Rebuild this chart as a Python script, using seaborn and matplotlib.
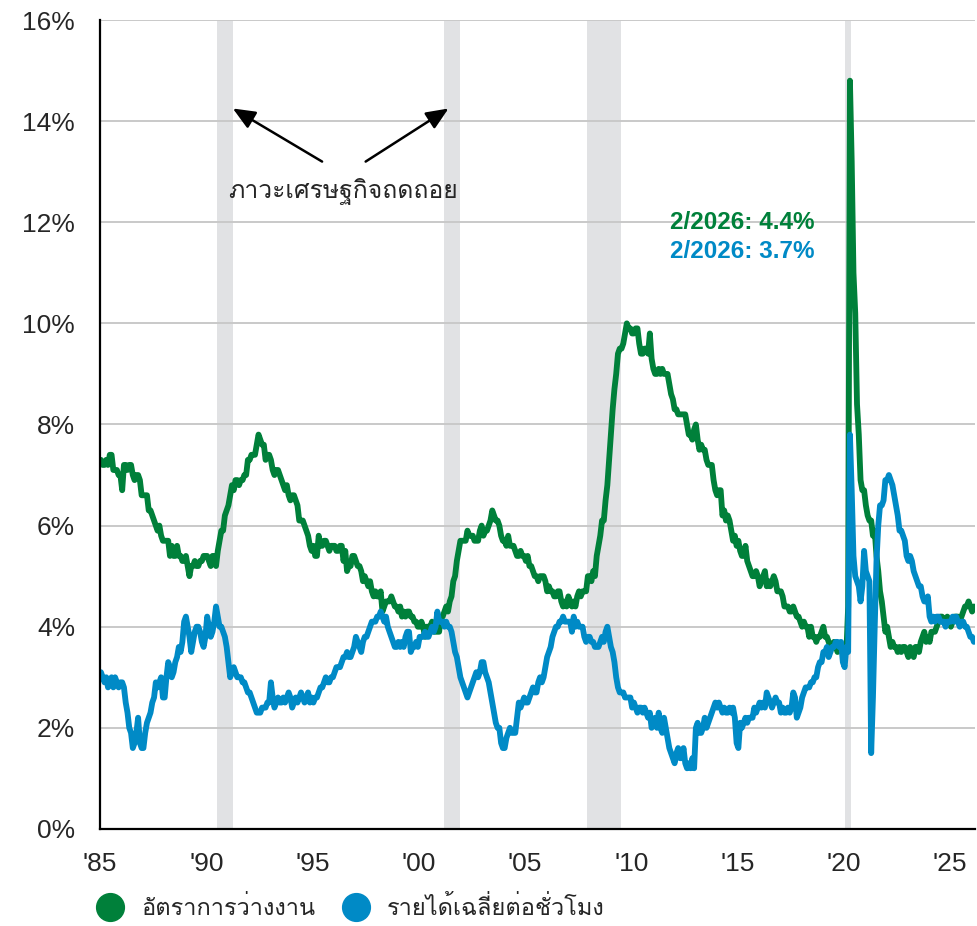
import numpy as np
import pandas as pd
import matplotlib
matplotlib.use('Agg')
import matplotlib.pyplot as plt
import seaborn as sns
from matplotlib import font_manager as fm
from matplotlib.ft2font import FT2Font
from matplotlib.lines import Line2D

# monthly values, Jan 1985 .. Feb 2026
unemployment = [
    7.3, 7.2, 7.2, 7.3, 7.2, 7.4, 7.4, 7.1, 7.1, 7.1, 7.0, 7.0,  # 1985
    6.7, 7.2, 7.2, 7.1, 7.2, 7.2, 7.0, 6.9, 7.0, 7.0, 6.9, 6.6,  # 1986
    6.6, 6.6, 6.6, 6.3, 6.3, 6.2, 6.1, 6.0, 5.9, 6.0, 5.8, 5.7,  # 1987
    5.7, 5.7, 5.7, 5.4, 5.6, 5.4, 5.4, 5.6, 5.4, 5.4, 5.3, 5.3,  # 1988
    5.4, 5.2, 5.0, 5.2, 5.2, 5.3, 5.2, 5.2, 5.3, 5.3, 5.4, 5.4,  # 1989
    5.4, 5.3, 5.2, 5.4, 5.4, 5.2, 5.5, 5.7, 5.9, 5.9, 6.2, 6.3,  # 1990
    6.4, 6.6, 6.8, 6.7, 6.9, 6.9, 6.8, 6.9, 6.9, 7.0, 7.0, 7.3,  # 1991
    7.3, 7.4, 7.4, 7.4, 7.6, 7.8, 7.7, 7.6, 7.6, 7.3, 7.4, 7.4,  # 1992
    7.3, 7.1, 7.0, 7.1, 7.1, 7.0, 6.9, 6.8, 6.7, 6.8, 6.6, 6.5,  # 1993
    6.6, 6.6, 6.5, 6.4, 6.1, 6.1, 6.1, 6.0, 5.9, 5.8, 5.6, 5.5,  # 1994
    5.6, 5.4, 5.4, 5.8, 5.6, 5.6, 5.7, 5.7, 5.6, 5.5, 5.6, 5.6,  # 1995
    5.6, 5.5, 5.5, 5.6, 5.6, 5.3, 5.5, 5.1, 5.2, 5.2, 5.4, 5.4,  # 1996
    5.3, 5.2, 5.2, 5.1, 4.9, 5.0, 4.9, 4.8, 4.9, 4.7, 4.6, 4.7,  # 1997
    4.6, 4.6, 4.7, 4.3, 4.4, 4.5, 4.5, 4.5, 4.6, 4.5, 4.4, 4.4,  # 1998
    4.3, 4.4, 4.2, 4.3, 4.2, 4.3, 4.3, 4.2, 4.2, 4.1, 4.1, 4.0,  # 1999
    4.0, 4.1, 4.0, 3.8, 4.0, 4.0, 4.0, 4.1, 3.9, 3.9, 3.9, 3.9,  # 2000
    4.2, 4.2, 4.3, 4.4, 4.3, 4.5, 4.6, 4.9, 5.0, 5.3, 5.5, 5.7,  # 2001
    5.7, 5.7, 5.7, 5.9, 5.8, 5.8, 5.8, 5.7, 5.7, 5.7, 5.9, 6.0,  # 2002
    5.8, 5.9, 5.9, 6.0, 6.1, 6.3, 6.2, 6.1, 6.1, 6.0, 5.8, 5.7,  # 2003
    5.7, 5.6, 5.8, 5.6, 5.6, 5.6, 5.5, 5.4, 5.4, 5.5, 5.4, 5.4,  # 2004
    5.3, 5.4, 5.2, 5.2, 5.1, 5.0, 5.0, 4.9, 5.0, 5.0, 5.0, 4.9,  # 2005
    4.7, 4.8, 4.7, 4.7, 4.6, 4.6, 4.7, 4.7, 4.5, 4.4, 4.5, 4.4,  # 2006
    4.6, 4.5, 4.4, 4.5, 4.4, 4.6, 4.7, 4.6, 4.7, 4.7, 4.7, 5.0,  # 2007
    5.0, 4.9, 5.1, 5.0, 5.4, 5.6, 5.8, 6.1, 6.1, 6.5, 6.8, 7.3,  # 2008
    7.8, 8.3, 8.7, 9.0, 9.4, 9.5, 9.5, 9.6, 9.8, 10.0, 9.9, 9.9,  # 2009
    9.8, 9.8, 9.9, 9.9, 9.6, 9.4, 9.4, 9.5, 9.5, 9.4, 9.8, 9.3,  # 2010
    9.1, 9.0, 9.0, 9.1, 9.0, 9.1, 9.0, 9.0, 9.0, 8.8, 8.6, 8.5,  # 2011
    8.3, 8.3, 8.2, 8.2, 8.2, 8.2, 8.2, 8.0, 7.8, 7.8, 7.7, 7.9,  # 2012
    8.0, 7.7, 7.5, 7.6, 7.5, 7.5, 7.3, 7.2, 7.2, 7.2, 6.9, 6.7,  # 2013
    6.6, 6.7, 6.7, 6.2, 6.3, 6.1, 6.2, 6.1, 5.9, 5.7, 5.8, 5.6,  # 2014
    5.7, 5.5, 5.4, 5.4, 5.6, 5.3, 5.2, 5.1, 5.0, 5.0, 5.1, 5.0,  # 2015
    4.8, 4.9, 5.0, 5.1, 4.8, 4.9, 4.8, 4.9, 5.0, 4.9, 4.7, 4.7,  # 2016
    4.7, 4.6, 4.4, 4.4, 4.4, 4.3, 4.3, 4.4, 4.3, 4.2, 4.2, 4.1,  # 2017
    4.0, 4.1, 4.0, 4.0, 3.8, 4.0, 3.8, 3.8, 3.7, 3.8, 3.8, 3.9,  # 2018
    4.0, 3.8, 3.8, 3.7, 3.6, 3.6, 3.7, 3.6, 3.5, 3.6, 3.6, 3.6,  # 2019
    3.5, 3.5, 4.4, 14.8, 13.2, 11.0, 10.2, 8.4, 7.8, 6.9, 6.7, 6.7,  # 2020
    6.4, 6.2, 6.1, 6.1, 5.8, 5.9, 5.4, 5.1, 4.7, 4.5, 4.2, 3.9,  # 2021
    4.0, 3.8, 3.6, 3.7, 3.6, 3.6, 3.5, 3.6, 3.5, 3.6, 3.6, 3.5,  # 2022
    3.4, 3.6, 3.5, 3.4, 3.6, 3.6, 3.5, 3.7, 3.8, 3.9, 3.7, 3.8,  # 2023
    3.7, 3.9, 3.9, 3.9, 4.0, 4.1, 4.2, 4.2, 4.1, 4.1, 4.2, 4.1,  # 2024
    4.0, 4.1, 4.2, 4.2, 4.2, 4.1, 4.2, 4.3, 4.4, 4.4, 4.5, 4.4,  # 2025
    4.3, 4.4,  # 2026
]

hourly_earnings = [
    3.1, 3.0, 2.9, 3.0, 2.8, 2.9, 3.0, 2.8, 3.0, 2.9, 2.8, 2.9,  # 1985
    2.9, 2.8, 2.5, 2.3, 2.0, 1.9, 1.6, 1.7, 1.9, 2.2, 1.7, 1.6,  # 1986
    1.6, 1.9, 2.1, 2.2, 2.3, 2.5, 2.6, 2.9, 2.8, 2.9, 3.0, 2.6,  # 1987
    2.6, 3.0, 3.3, 3.2, 3.0, 3.1, 3.3, 3.4, 3.6, 3.5, 3.7, 4.1,  # 1988
    4.2, 4.0, 3.8, 3.5, 3.7, 3.9, 4.0, 4.0, 3.9, 3.7, 3.6, 3.8,  # 1989
    4.2, 4.0, 3.8, 3.9, 4.1, 4.4, 4.2, 4.0, 4.0, 3.9, 3.8, 3.6,  # 1990
    3.3, 3.0, 3.1, 3.2, 3.1, 3.0, 3.0, 3.0, 2.9, 2.9, 2.8, 2.7,  # 1991
    2.7, 2.6, 2.5, 2.4, 2.3, 2.3, 2.3, 2.4, 2.4, 2.4, 2.5, 2.5,  # 1992
    2.9, 2.6, 2.4, 2.5, 2.6, 2.5, 2.5, 2.6, 2.5, 2.6, 2.7, 2.6,  # 1993
    2.4, 2.5, 2.6, 2.5, 2.6, 2.7, 2.6, 2.5, 2.6, 2.7, 2.5, 2.6,  # 1994
    2.5, 2.6, 2.6, 2.7, 2.8, 2.8, 2.9, 3.0, 2.9, 2.9, 3.0, 3.0,  # 1995
    3.1, 3.2, 3.2, 3.2, 3.3, 3.4, 3.4, 3.5, 3.4, 3.4, 3.5, 3.6,  # 1996
    3.8, 3.7, 3.6, 3.5, 3.7, 3.8, 3.8, 3.9, 4.0, 4.1, 4.1, 4.1,  # 1997
    4.2, 4.2, 4.3, 4.2, 4.1, 4.2, 4.0, 3.9, 3.8, 3.7, 3.6, 3.6,  # 1998
    3.7, 3.6, 3.7, 3.6, 3.8, 3.9, 3.9, 3.5, 3.6, 3.6, 3.7, 3.6,  # 1999
    3.8, 3.8, 3.8, 3.9, 3.8, 3.8, 3.9, 4.0, 3.9, 4.0, 4.3, 4.1,  # 2000
    4.1, 4.1, 4.0, 4.1, 4.0, 4.0, 3.9, 3.7, 3.5, 3.4, 3.2, 3.0,  # 2001
    2.9, 2.8, 2.7, 2.6, 2.7, 2.8, 2.9, 3.0, 3.1, 3.0, 3.1, 3.3,  # 2002
    3.3, 3.1, 3.0, 2.9, 2.7, 2.5, 2.3, 2.1, 2.0, 2.0, 1.7, 1.6,  # 2003
    1.6, 1.8, 1.9, 2.0, 1.9, 1.9, 1.9, 2.2, 2.5, 2.4, 2.5, 2.6,  # 2004
    2.5, 2.5, 2.6, 2.7, 2.8, 2.7, 2.7, 2.9, 3.0, 2.9, 3.0, 3.2,  # 2005
    3.4, 3.5, 3.6, 3.8, 3.9, 4.0, 4.0, 4.1, 4.1, 4.2, 4.1, 4.1,  # 2006
    4.1, 4.1, 3.9, 4.2, 4.0, 4.1, 4.0, 4.0, 4.0, 3.8, 3.7, 3.8,  # 2007
    3.8, 3.7, 3.7, 3.6, 3.6, 3.6, 3.7, 3.8, 3.7, 3.9, 4.0, 3.8,  # 2008
    3.6, 3.5, 3.3, 3.0, 2.8, 2.7, 2.7, 2.7, 2.6, 2.6, 2.6, 2.6,  # 2009
    2.4, 2.5, 2.4, 2.3, 2.4, 2.4, 2.3, 2.4, 2.3, 2.2, 2.3, 2.0,  # 2010
    2.1, 2.2, 2.0, 2.3, 2.0, 1.9, 2.2, 2.0, 1.8, 1.6, 1.5, 1.4,  # 2011
    1.3, 1.5, 1.6, 1.4, 1.4, 1.6, 1.3, 1.2, 1.3, 1.2, 1.4, 1.2,  # 2012
    2.0, 2.1, 1.9, 1.9, 2.0, 2.2, 2.0, 2.1, 2.2, 2.3, 2.4, 2.5,  # 2013
    2.4, 2.5, 2.4, 2.3, 2.4, 2.3, 2.3, 2.4, 2.3, 2.4, 2.2, 1.7,  # 2014
    1.6, 2.1, 2.0, 2.1, 2.2, 2.1, 2.2, 2.2, 2.2, 2.4, 2.3, 2.4,  # 2015
    2.5, 2.4, 2.5, 2.4, 2.7, 2.6, 2.5, 2.4, 2.5, 2.6, 2.5, 2.5,  # 2016
    2.3, 2.4, 2.3, 2.3, 2.4, 2.3, 2.4, 2.7, 2.6, 2.2, 2.3, 2.4,  # 2017
    2.6, 2.7, 2.8, 2.8, 2.8, 2.9, 2.9, 3.0, 3.0, 3.2, 3.3, 3.3,  # 2018
    3.5, 3.5, 3.6, 3.4, 3.5, 3.6, 3.6, 3.7, 3.7, 3.6, 3.7, 3.3,  # 2019
    3.2, 3.6, 3.5, 7.8, 6.7, 5.4, 5.0, 4.9, 4.8, 4.5, 4.8, 5.5,  # 2020
    5.1, 5.0, 4.9, 1.5, 2.6, 4.0, 5.3, 6.0, 6.4, 6.4, 6.5, 6.9,  # 2021
    6.9, 7.0, 6.9, 6.8, 6.6, 6.4, 6.2, 5.9, 5.9, 5.8, 5.7, 5.4,  # 2022
    5.3, 5.4, 5.3, 5.1, 5.0, 4.9, 4.8, 4.8, 4.6, 4.5, 4.5, 4.6,  # 2023
    4.2, 4.1, 4.2, 4.1, 4.2, 4.2, 4.1, 4.1, 4.1, 4.0, 4.1, 4.1,  # 2024
    4.1, 4.2, 4.1, 4.2, 4.1, 4.0, 4.1, 4.1, 4.0, 4.0, 3.9, 3.8,  # 2025
    3.8, 3.7,  # 2026
]

recession_start = [1990.5, 2001.17, 2007.92, 2020.08]
recession_end = [1991.25, 2001.92, 2009.5, 2020.33]

series_names = ['อัตราการว่างงาน', 'รายได้เฉลี่ยต่อชั่วโมง']
series_colors = ['#00803a', '#008ac6']
y_ticks = [0, 2, 4, 6, 8, 10, 12, 14, 16]
x_ticks = [1985, 1990, 1995, 2000, 2005, 2010, 2015, 2020, 2025]
x_labels = ["'85", "'90", "'95", "'00", "'05", "'10", "'15", "'20", "'25"]


def find_thai_font():
    # look for any installed font that has Thai glyphs
    for f in fm.fontManager.ttflist:
        try:
            ft = FT2Font(f.fname)
            if ft.get_char_index(0x0E20) and ft.get_char_index(0x0E2D):
                return f.name
        except Exception:
            pass
    return 'DejaVu Sans'


sns.set_style('white')
thai_font = find_thai_font()
plt.rcParams['font.family'] = ['Liberation Sans', thai_font, 'DejaVu Sans']

n = len(unemployment)
dates = 1985 + (np.arange(n) + 0.5) / 12
df = pd.DataFrame({
    'date': np.concatenate([dates, dates]),
    'value': unemployment + hourly_earnings,
    'series': [series_names[0]] * n + [series_names[1]] * n,
})

fig = plt.figure(figsize=(9.77, 9.26), dpi=100)
ax = fig.add_axes([0.1024, 0.1048, 0.8956, 0.8736])

for s, e in zip(recession_start, recession_end):
    ax.axvspan(s, e, color='#e1e2e4', lw=0, zorder=0)

for y in y_ticks[1:]:
    ax.axhline(y, color='#c9c9c9', lw=1.4, zorder=0.5)

sns.lineplot(data=df, x='date', y='value', hue='series', palette=series_colors,
             linewidth=4.2, legend=False, ax=ax, zorder=3)

ax.set_xlim(1985, 2026.18)
ax.set_ylim(0, 16)
ax.set_yticks(y_ticks)
ax.set_yticklabels([f'{v}%' for v in y_ticks], fontsize=19)
ax.set_xticks(x_ticks)
ax.set_xticklabels(x_labels, fontsize=19)
ax.tick_params(axis='y', length=0, pad=18)
ax.tick_params(axis='x', length=5.8, width=1.6, color='black', direction='out', pad=10.5)
ax.set_xlabel('')
ax.set_ylabel('')
for side in ['top', 'right']:
    ax.spines[side].set_visible(False)
for side in ['left', 'bottom']:
    ax.spines[side].set_color('black')
    ax.spines[side].set_linewidth(1.6)
    ax.spines[side].set_zorder(4)

# recession annotation
ax.text(1996.45, 12.6, 'ภาวะเศรษฐกิจถดถอย', fontsize=17.8, ha='center', va='center',
        family=[thai_font, 'DejaVu Sans'])
arrow_style = dict(arrowstyle='-|>,head_length=0.75,head_width=0.32', color='black',
                   lw=1.8, mutation_scale=18, shrinkA=0, shrinkB=0)
ax.annotate('', xy=(1991.25, 14.25), xytext=(1995.45, 13.2), arrowprops=arrow_style)
ax.annotate('', xy=(2001.4, 14.25), xytext=(1997.5, 13.2), arrowprops=arrow_style)

# latest values
ax.text(2011.82, 12.0, '2/2026: 4.4%', color=series_colors[0], fontsize=17.5,
        fontweight='bold', va='center')
ax.text(2011.82, 11.43, '2/2026: 3.7%', color=series_colors[1], fontsize=17.5,
        fontweight='bold', va='center')

handles = [Line2D([], [], marker='o', linestyle='', markersize=20, color=c) for c in series_colors]
fig.legend(handles, series_names, loc='center left', bbox_to_anchor=(0.0983, 0.0194), ncol=2,
           frameon=False, borderaxespad=0, borderpad=0, handlelength=1.2,
           handletextpad=0.7, columnspacing=1.15,
           prop={'family': [thai_font, 'DejaVu Sans'], 'size': 17})

fig.savefig('out.png', dpi=100)
